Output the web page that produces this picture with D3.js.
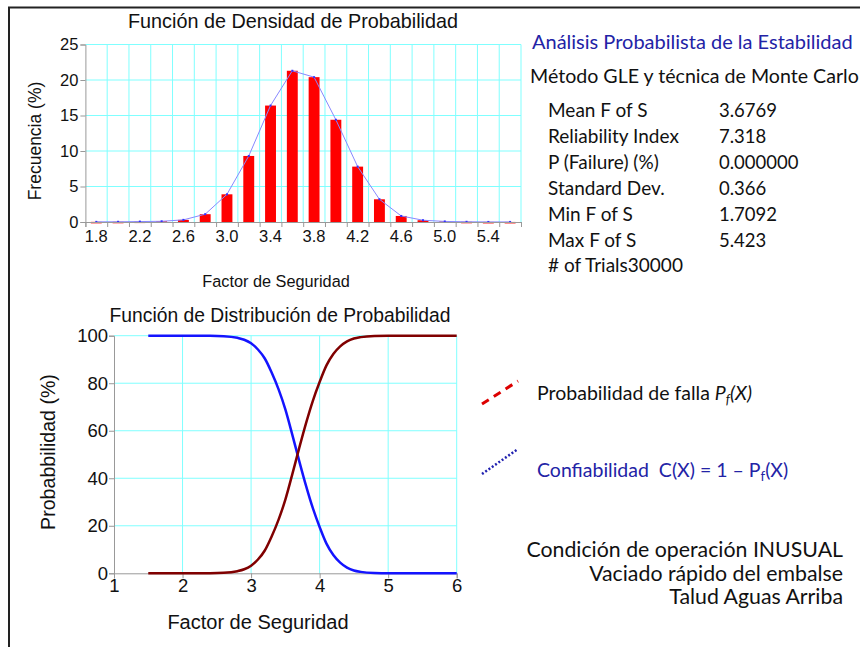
<!DOCTYPE html>
<html>
<head>
<meta charset="utf-8">
<script src="https://cdn.jsdelivr.net/npm/d3@7"></script>
<style>
  html, body { margin: 0; padding: 0; background: #fff; }
  svg { display: block; }
</style>
</head>
<body>
<div id="chart"></div>
<script>
// histogram: bin centres and frequency (%)
const binCenters = [1.8, 2.0, 2.2, 2.4, 2.6, 2.8, 3.0, 3.2, 3.4, 3.6, 3.8, 4.0, 4.2, 4.4, 4.6, 4.8, 5.0, 5.2, 5.4, 5.6];
const frequency = [0.02, 0.03, 0.06, 0.1, 0.3, 1.1, 3.9, 9.3, 16.4, 21.3, 20.4, 14.4, 7.8, 3.2, 0.85, 0.25, 0.08, 0.03, 0.01, 0.01];
const histXTicks = [1.8, 2.2, 2.6, 3.0, 3.4, 3.8, 4.2, 4.6, 5.0, 5.4];
const histYTicks = [0, 5, 10, 15, 20, 25];

// cumulative curves
const fsValues = [1.5, 2.0, 2.4, 2.6, 2.8, 2.9, 3.0, 3.1, 3.2, 3.3, 3.4, 3.5, 3.6, 3.7, 3.8, 3.9, 4.0, 4.1, 4.2, 4.3, 4.4, 4.5, 4.6, 4.8, 5.0, 5.5, 6.0];
const probFailure = [0, 0, 0.05, 0.2, 0.9, 1.7, 3.2, 5.8, 9.6, 15.5, 22.5, 31, 41.5, 52.5, 63, 72.5, 80.5, 87.5, 92.3, 95.5, 97.6, 98.8, 99.4, 99.9, 100, 100, 100];
const reliability = [100, 100, 99.95, 99.8, 99.1, 98.3, 96.8, 94.2, 90.4, 84.5, 77.5, 69, 58.5, 47.5, 37, 27.5, 19.5, 12.5, 7.7, 4.5, 2.4, 1.2, 0.6, 0.1, 0, 0, 0];
const cdfXTicks = [1, 2, 3, 4, 5, 6];
const cdfYTicks = [0, 20, 40, 60, 80, 100];

const statLabels = ['Mean F of S', 'Reliability Index', 'P (Failure) (%)', 'Standard Dev.', 'Min F of S', 'Max F of S', '# of Trials30000'];
const statValues = ['3.6769', '7.318', '0.000000', '0.366', '1.7092', '5.423', ''];
const conditionLines = ['Condición de operación INUSUAL', 'Vaciado rápido del embalse', 'Talud Aguas Arriba'];

const W = 860, H = 647;
const GRID = '#80ffff';
const AXIS = '#999';
const ARIAL = 'Arial, "Liberation Sans", sans-serif';
const CALIBRI = 'Lato, "Open Sans", sans-serif';

const svg = d3.select('#chart').append('svg').attr('width', W).attr('height', H);

// outer frame
svg.append('path')
  .attr('d', `M9,${H} V7.5 H${W}`)
  .attr('fill', 'none')
  .attr('stroke', '#222')
  .attr('stroke-width', 2);

/* ---------- histogram ---------- */
const hx = d3.scaleLinear().domain([1.7, 5.7]).range([85.4, 521]);
const hy = d3.scaleLinear().domain([0, 25]).range([222, 44.5]);
const binEdges = d3.range(21).map((i) => 1.7 + i * 0.2);

const histG = svg.append('g');
histG.selectAll('.hgrid')
  .data(histYTicks.slice(1))
  .join('line')
  .attr('x1', hx(1.7)).attr('x2', hx(5.7))
  .attr('y1', (d) => hy(d)).attr('y2', (d) => hy(d))
  .attr('stroke', GRID);
histG.selectAll('.vgrid')
  .data(binEdges.slice(1))
  .join('line')
  .attr('x1', (d) => hx(d)).attr('x2', (d) => hx(d))
  .attr('y1', hy(0)).attr('y2', hy(25))
  .attr('stroke', GRID);

histG.selectAll('rect.bar')
  .data(binCenters)
  .join('rect')
  .attr('class', 'bar')
  .attr('x', (d) => hx(d - 0.05))
  .attr('width', hx(1.8) - hx(1.7))
  .attr('y', (d, i) => hy(frequency[i]))
  .attr('height', (d, i) => Math.max(1.5, hy(0) - hy(frequency[i])))
  .attr('fill', '#ff0000');

histG.append('path')
  .datum(binCenters)
  .attr('d', d3.line().x((d) => hx(d)).y((d, i) => hy(frequency[i])))
  .attr('fill', 'none')
  .attr('stroke', '#8888ff')
  .attr('stroke-width', 1);
histG.selectAll('rect.dot')
  .data(binCenters)
  .join('rect')
  .attr('class', 'dot')
  .attr('x', (d) => hx(d) - 1)
  .attr('y', (d, i) => hy(frequency[i]) - 1)
  .attr('width', 2).attr('height', 2)
  .attr('fill', '#3333ff');

// axes
const hAxisY = d3.axisLeft(hy).tickValues(histYTicks).tickSize(5).tickPadding(2);
histG.append('g')
  .attr('transform', `translate(${hx(1.7)},0)`)
  .call(hAxisY)
  .call((g) => g.selectAll('line, path').attr('stroke', AXIS))
  .selectAll('text')
  .attr('fill', '#111').attr('font-size', 16.5).attr('font-family', ARIAL);

const hAxisX = d3.axisBottom(hx).tickValues(binEdges).tickSize(5).tickFormat('');
histG.append('g')
  .attr('transform', `translate(0,${hy(0)})`)
  .call(hAxisX)
  .call((g) => g.selectAll('line, path').attr('stroke', AXIS));
histG.selectAll('text.hxlab')
  .data(histXTicks)
  .join('text')
  .attr('class', 'hxlab')
  .attr('x', (d) => hx(d))
  .attr('y', 242)
  .attr('text-anchor', 'middle')
  .attr('font-size', 16.5)
  .attr('font-family', ARIAL)
  .attr('fill', '#111')
  .text((d) => d.toFixed(1));

histG.append('text')
  .attr('x', 293).attr('y', 28)
  .attr('text-anchor', 'middle')
  .attr('font-size', 19.8).attr('font-family', ARIAL).attr('fill', '#111')
  .text('Función de Densidad de Probabilidad');
histG.append('text')
  .attr('transform', 'translate(41,141) rotate(-90)')
  .attr('text-anchor', 'middle')
  .attr('font-size', 17.5).attr('font-family', ARIAL).attr('fill', '#111')
  .text('Frecuencia (%)');
histG.append('text')
  .attr('x', 276).attr('y', 287)
  .attr('text-anchor', 'middle')
  .attr('font-size', 16.3).attr('font-family', ARIAL).attr('fill', '#111')
  .text('Factor de Seguridad');

/* ---------- cumulative distribution ---------- */
const cx = d3.scaleLinear().domain([1, 6]).range([114, 456.7]);
const cy = d3.scaleLinear().domain([0, 100]).range([573.3, 335.7]);

const cdfG = svg.append('g');
cdfG.selectAll('.hgrid')
  .data(cdfYTicks.slice(1))
  .join('line')
  .attr('x1', cx(1)).attr('x2', cx(6))
  .attr('y1', (d) => cy(d)).attr('y2', (d) => cy(d))
  .attr('stroke', GRID);
cdfG.selectAll('.vgrid')
  .data(cdfXTicks.slice(1))
  .join('line')
  .attr('x1', (d) => cx(d)).attr('x2', (d) => cx(d))
  .attr('y1', cy(0)).attr('y2', cy(100))
  .attr('stroke', GRID);

cdfG.append('g')
  .attr('transform', `translate(${cx(1)},0)`)
  .call(d3.axisLeft(cy).tickValues(cdfYTicks).tickSize(5).tickPadding(1))
  .call((g) => g.selectAll('line, path').attr('stroke', AXIS))
  .selectAll('text')
  .attr('fill', '#111').attr('font-size', 18.5).attr('font-family', ARIAL);
cdfG.append('g')
  .attr('transform', `translate(0,${cy(0)})`)
  .call(d3.axisBottom(cx).tickValues(cdfXTicks).tickSize(5).tickPadding(1).tickFormat(d3.format('d')))
  .call((g) => g.selectAll('line, path').attr('stroke', AXIS))
  .selectAll('text')
  .attr('fill', '#111').attr('font-size', 18.5).attr('font-family', ARIAL);

const curve = (vals) => d3.line()
  .x((d) => cx(d))
  .y((d, i) => cy(vals[i]))
  .curve(d3.curveMonotoneX);

cdfG.append('path')
  .datum(fsValues)
  .attr('d', curve(reliability))
  .attr('fill', 'none')
  .attr('stroke', '#1414ff')
  .attr('stroke-width', 2.5);
cdfG.append('path')
  .datum(fsValues)
  .attr('d', curve(probFailure))
  .attr('fill', 'none')
  .attr('stroke', '#800000')
  .attr('stroke-width', 2.5);

cdfG.append('text')
  .attr('x', 280).attr('y', 322)
  .attr('text-anchor', 'middle')
  .attr('font-size', 19.3).attr('font-family', ARIAL).attr('fill', '#111')
  .text('Función de Distribución de Probabilidad');
cdfG.append('text')
  .attr('transform', 'translate(55,452) rotate(-90)')
  .attr('text-anchor', 'middle')
  .attr('font-size', 19.6).attr('font-family', ARIAL).attr('fill', '#111')
  .text('Probabbilidad (%)');
cdfG.append('text')
  .attr('x', 258).attr('y', 629)
  .attr('text-anchor', 'middle')
  .attr('font-size', 20).attr('font-family', ARIAL).attr('fill', '#111')
  .text('Factor de Seguridad');

/* ---------- right-hand text ---------- */
const side = svg.append('g').attr('font-family', CALIBRI);
side.append('text')
  .attr('x', 532).attr('y', 49)
  .attr('font-size', 20).attr('fill', '#2323a6')
  .text('Análisis Probabilista de la Estabilidad');
side.append('text')
  .attr('x', 530).attr('y', 83)
  .attr('font-size', 19.6).attr('fill', '#111')
  .text('Método GLE y técnica de Monte Carlo');

statLabels.forEach((lab, i) => {
  const yy = 117 + i * 25.9;
  side.append('text').attr('x', 548).attr('y', yy)
    .attr('font-size', 19).attr('fill', '#111').text(lab);
  if (statValues[i]) {
    side.append('text').attr('x', 719).attr('y', yy)
      .attr('font-size', 18.5).attr('fill', '#111').text(statValues[i]);
  }
});

// legend
side.append('line')
  .attr('x1', 482).attr('y1', 404).attr('x2', 518).attr('y2', 381)
  .attr('stroke', '#dd0000').attr('stroke-width', 3)
  .attr('stroke-dasharray', '8,6');
side.append('line')
  .attr('x1', 482).attr('y1', 474).attr('x2', 518).attr('y2', 449)
  .attr('stroke', '#2020b0').attr('stroke-width', 2.5)
  .attr('stroke-dasharray', '2,2');

const leg1 = side.append('text').attr('x', 537).attr('y', 400)
  .attr('font-size', 19.5).attr('fill', '#111');
leg1.append('tspan').text('Probabilidad de falla ');
leg1.append('tspan').attr('font-style', 'italic').text('P');
leg1.append('tspan').attr('font-style', 'italic').attr('font-size', 13).attr('dy', 4).text('f');
leg1.append('tspan').attr('font-style', 'italic').attr('dy', -4).text('(X)');

const leg2 = side.append('text').attr('x', 537).attr('y', 477)
  .attr('font-size', 19.5).attr('fill', '#2323a6');
leg2.append('tspan').text('Confiabilidad\u00a0 C(X) = 1 – P');
leg2.append('tspan').attr('font-size', 13).attr('dy', 4).text('f');
leg2.append('tspan').attr('dy', -4).text('(X)');

side.selectAll('text.cond')
  .data(conditionLines)
  .join('text')
  .attr('class', 'cond')
  .attr('x', 843)
  .attr('y', (d, i) => 557 + i * 23.5)
  .attr('text-anchor', 'end')
  .attr('font-size', 21.3)
  .attr('fill', '#111')
  .text((d) => d);
</script>
</body>
</html>
